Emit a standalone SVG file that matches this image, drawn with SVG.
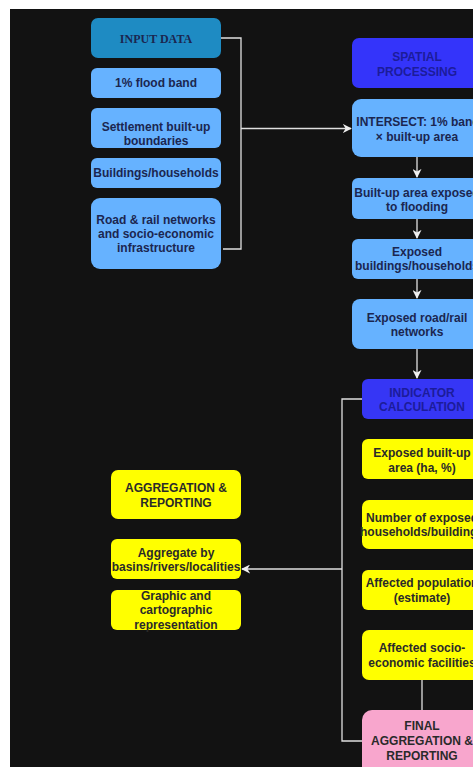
<svg xmlns="http://www.w3.org/2000/svg" width="473" height="767" viewBox="0 0 473 767">
<style>
.t{font-family:"Liberation Sans",Arial,sans-serif;font-size:12px;font-weight:bold;text-anchor:middle}
.nv{fill:#1b2650}
.dk{fill:#2a2a2a}
.bl{fill:#66b2ff}
.yl{fill:#ffff00}
.ln{fill:none;stroke:#e0e0e0;stroke-width:1.3}
</style>
<defs>
<marker id="ah" viewBox="0 0 10 10" refX="9" refY="5" markerWidth="9" markerHeight="9" orient="auto" markerUnits="userSpaceOnUse">
<path d="M0,0 L10,5 L0,10 L3,5 z" fill="#f0f0f0"/>
</marker>
</defs>
<rect x="0" y="0" width="473" height="767" fill="#ffffff"/>
<rect x="10" y="9" width="463" height="758" fill="#121212"/>

<g id="connectors">
<polyline class="ln" points="221,38 241,38 241,249 223,249"/>
<line class="ln" x1="241" y1="128.5" x2="351" y2="128.5" marker-end="url(#ah)"/>
<line class="ln" x1="417" y1="157" x2="417" y2="177" marker-end="url(#ah)"/>
<line class="ln" x1="417" y1="219" x2="417" y2="238" marker-end="url(#ah)"/>
<line class="ln" x1="417" y1="279" x2="417" y2="298" marker-end="url(#ah)"/>
<line class="ln" x1="417" y1="349" x2="417" y2="378" marker-end="url(#ah)"/>
<polyline class="ln" points="362,399 342,399 342,741 362,741"/>
<line class="ln" x1="342" y1="569" x2="242" y2="569" marker-end="url(#ah)"/>
<line class="ln" x1="422" y1="680" x2="422" y2="710"/>
</g>

<g id="input-data">
<rect x="91" y="18" width="130" height="40" rx="7" fill="#1e8bc3"/>
<text x="156" y="43" text-anchor="middle" font-family="Liberation Serif,Times New Roman,serif" font-size="12" font-weight="bold" fill="#1b2650">INPUT DATA</text>
</g>
<g id="flood-band">
<rect x="91" y="68" width="130" height="30" rx="6" class="bl"/>
<text class="t nv" x="156" y="87">1% flood band</text>
</g>
<g id="settlement">
<rect x="91" y="108" width="130" height="40" rx="6" class="bl"/>
<text class="t nv" x="156" y="131">Settlement built-up</text>
<text class="t nv" x="156" y="145">boundaries</text>
</g>
<g id="buildings">
<rect x="91" y="158" width="130" height="30" rx="6" class="bl"/>
<text class="t nv" x="156" y="177">Buildings/households</text>
</g>
<g id="road-rail">
<rect x="91" y="198" width="130" height="71" rx="9" class="bl"/>
<text class="t nv" x="156" y="224">Road &amp; rail networks</text>
<text class="t nv" x="156" y="238">and socio-economic</text>
<text class="t nv" x="156" y="252">infrastructure</text>
</g>

<g id="spatial-processing">
<rect x="352" y="38" width="130" height="50" rx="7" fill="#3434fa"/>
<text class="t" fill="#1c1c9a" x="417" y="61">SPATIAL</text>
<text class="t" fill="#1c1c9a" x="417" y="76">PROCESSING</text>
</g>
<g id="intersect">
<rect x="352" y="99" width="130" height="58" rx="9" class="bl"/>
<text class="t nv" x="418" y="126">INTERSECT: 1%  band</text>
<text class="t nv" x="417" y="141">× built-up area</text>
</g>
<g id="builtup-exposed">
<rect x="352" y="178" width="130" height="41" rx="6" class="bl"/>
<text class="t nv" x="417" y="197">Built-up area exposed</text>
<text class="t nv" x="417" y="211">to flooding</text>
</g>
<g id="exposed-buildings">
<rect x="352" y="239" width="130" height="40" rx="6" class="bl"/>
<text class="t nv" x="417" y="256">Exposed</text>
<text class="t nv" x="417" y="270">buildings/households</text>
</g>
<g id="exposed-road">
<rect x="352" y="299" width="130" height="50" rx="8" class="bl"/>
<text class="t nv" x="417" y="322">Exposed road/rail</text>
<text class="t nv" x="417" y="336">networks</text>
</g>

<g id="indicator-calculation">
<rect x="362" y="379" width="120" height="40" rx="6" fill="#3636f5"/>
<text class="t" fill="#1c1c9a" x="422" y="397">INDICATOR</text>
<text class="t" fill="#1c1c9a" x="422" y="411">CALCULATION</text>
</g>
<g id="exposed-area">
<rect x="362" y="439" width="120" height="40" rx="6" class="yl"/>
<text class="t dk" x="422" y="457">Exposed built-up</text>
<text class="t dk" x="422" y="472">area (ha, %)</text>
</g>
<g id="number-exposed">
<rect x="362" y="500" width="120" height="49" rx="7" class="yl"/>
<text class="t dk" x="422" y="522">Number of exposed</text>
<text class="t dk" x="422" y="536">households/buildings</text>
</g>
<g id="affected-population">
<rect x="362" y="570" width="120" height="40" rx="6" class="yl"/>
<text class="t dk" x="422" y="587">Affected population</text>
<text class="t dk" x="422" y="602">(estimate)</text>
</g>
<g id="affected-facilities">
<rect x="362" y="630" width="120" height="50" rx="7" class="yl"/>
<text class="t dk" x="422" y="652">Affected socio-</text>
<text class="t dk" x="422" y="667">economic facilities</text>
</g>
<g id="final-aggregation">
<rect x="362" y="710" width="120" height="70" rx="10" fill="#f8a6cd"/>
<text class="t dk" x="422" y="730">FINAL</text>
<text class="t dk" x="422" y="745">AGGREGATION &amp;</text>
<text class="t dk" x="422" y="760">REPORTING</text>
</g>

<g id="aggregation-reporting">
<rect x="111" y="470" width="130" height="49" rx="7" class="yl"/>
<text class="t dk" x="176" y="492">AGGREGATION &amp;</text>
<text class="t dk" x="176" y="507">REPORTING</text>
</g>
<g id="aggregate-by">
<rect x="111" y="539" width="130" height="40" rx="6" class="yl"/>
<text class="t dk" x="176" y="557">Aggregate by</text>
<text class="t dk" x="176" y="571">basins/rivers/localities</text>
</g>
<g id="graphic-representation">
<rect x="111" y="590" width="130" height="40" rx="6" class="yl"/>
<text class="t dk" x="176" y="600">Graphic and</text>
<text class="t dk" x="176" y="614">cartographic</text>
<text class="t dk" x="176" y="629">representation</text>
</g>
</svg>
